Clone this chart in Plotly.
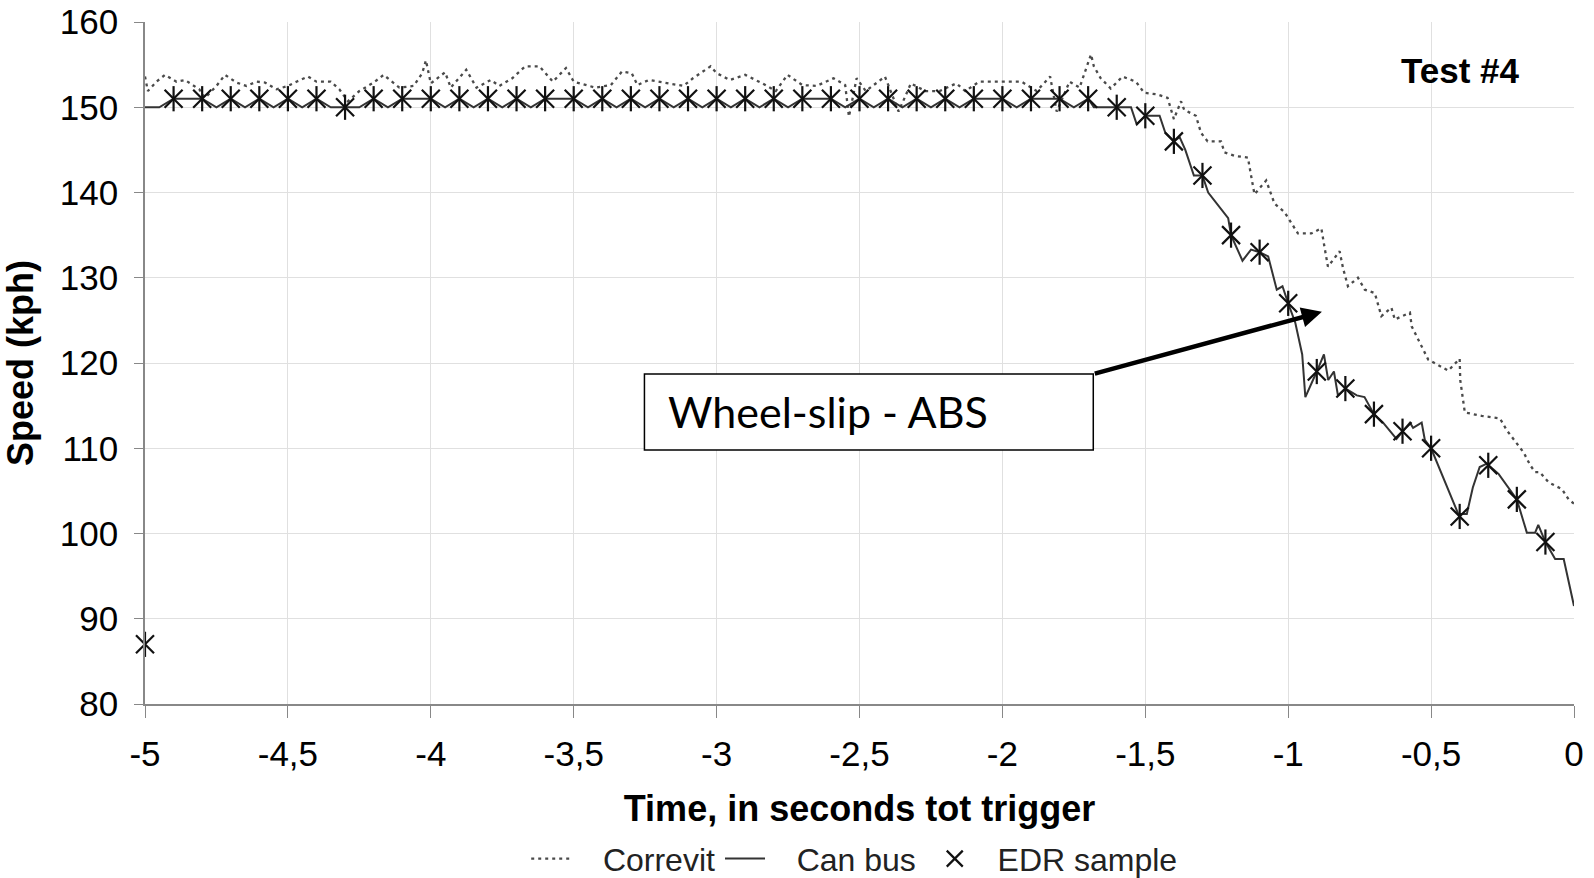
import plotly.graph_objects as go

# ---------------- data ----------------
correvit_t = [-5.00, -4.99, -4.96, -4.93, -4.89, -4.86, -4.81, -4.79, -4.75, -4.72, -4.68, -4.645, -4.61, -4.58,
              -4.54, -4.50, -4.47, -4.43, -4.40, -4.35, -4.32, -4.29, -4.25, -4.20, -4.165, -4.11, -4.06, -4.03,
              -4.017, -4.00, -3.95, -3.93, -3.876, -3.84, -3.79, -3.76, -3.715, -3.67, -3.62, -3.573, -3.527,
              -3.50, -3.478, -3.424, -3.37, -3.331, -3.297, -3.277, -3.237, -3.17, -3.116, -3.083, -3.021, -3.00,
              -2.954, -2.90, -2.84, -2.793, -2.752, -2.70, -2.65, -2.591, -2.55, -2.537, -2.51, -2.478, -2.411,
              -2.363, -2.32, -2.27, -2.22, -2.161, -2.13, -2.081, -2.04, -2.00, -1.933, -1.88, -1.833, -1.81,
              -1.765, -1.73, -1.69, -1.68, -1.656, -1.621, -1.58, -1.533, -1.504, -1.457, -1.422, -1.40, -1.375,
              -1.364, -1.323, -1.305, -1.282, -1.235, -1.223, -1.188, -1.141, -1.13, -1.118, -1.077, -1.048,
              -1.013, -0.995, -0.966, -0.919, -0.884, -0.873, -0.861, -0.82, -0.808, -0.791, -0.756, -0.732,
              -0.697, -0.674, -0.639, -0.627, -0.574, -0.568, -0.533, -0.51, -0.44, -0.40, -0.398, -0.382,
              -0.323, -0.259, -0.235, -0.176, -0.153, -0.136, -0.12, -0.089, -0.042, -0.019, 0.0]
correvit_v = [153.6, 151.9, 153.0, 153.8, 153.0, 153.2, 152.1, 151.1, 152.5, 153.8, 152.9, 152.5, 153.0, 152.9,
              152.1, 152.5, 153.0, 153.6, 153.0, 153.0, 152.1, 150.7, 151.9, 152.9, 153.8, 152.3, 152.5, 154.0,
              155.5, 152.8, 154.1, 152.3, 154.4, 152.3, 153.2, 152.5, 153.4, 154.8, 154.8, 153.0, 154.6,
              153.0, 152.8, 152.3, 152.6, 154.2, 154.0, 152.6, 153.2, 152.8, 152.5, 153.4, 154.8, 154.0,
              153.2, 153.8, 152.8, 151.9, 153.8, 152.6, 152.5, 153.4, 152.6, 148.9, 153.4, 151.9, 153.6,
              149.5, 152.8, 151.9, 151.9, 152.8, 151.9, 153.0, 153.0, 153.0, 153.0, 151.9, 153.6, 149.5,
              153.0, 152.3, 156.2, 154.8, 153.4, 152.2, 153.6, 153.0, 151.7, 151.5, 151.1, 148.6, 150.7,
              149.7, 149.0, 147.0, 146.0, 146.0, 144.7, 144.3, 144.1, 142.0, 139.8, 141.4, 138.7,
              137.7, 136.7, 135.2, 135.2, 135.8, 133.6, 131.3, 133.1, 131.1, 129.0, 130.0, 128.6,
              128.2, 125.5, 126.5, 125.1, 125.9, 124.3, 122.0, 120.4, 119.1, 120.5, 118.0, 114.2,
              113.8, 113.5, 112.1, 109.5, 108.0, 107.2, 107.2, 106.0, 105.2, 104.0, 103.5]

canbus_t = [-5.00, -4.95, -4.90, -4.85, -4.80, -4.75, -4.70, -4.65, -4.60, -4.55, -4.50, -4.45, -4.40, -4.35,
            -4.30, -4.25, -4.20, -4.15, -4.10, -4.05, -4.00, -3.95, -3.90, -3.85, -3.80, -3.75, -3.70, -3.65,
            -3.60, -3.55, -3.50, -3.45, -3.40, -3.35, -3.30, -3.25, -3.20, -3.15, -3.10, -3.05, -3.00, -2.95,
            -2.90, -2.85, -2.80, -2.75, -2.70, -2.65, -2.60, -2.55, -2.50, -2.45, -2.40, -2.35, -2.30, -2.25,
            -2.20, -2.15, -2.10, -2.05, -2.00, -1.95, -1.90, -1.85, -1.80, -1.75, -1.70,
            -1.68, -1.60, -1.55, -1.53, -1.50, -1.45, -1.43, -1.40, -1.38, -1.36, -1.33, -1.30, -1.28, -1.21,
            -1.20, -1.16, -1.13, -1.10, -1.07, -1.04, -1.02, -1.00, -0.975, -0.951, -0.94, -0.90, -0.875,
            -0.86, -0.84, -0.826, -0.80, -0.76, -0.733, -0.70, -0.668, -0.621, -0.60, -0.574, -0.563, -0.533,
            -0.522, -0.50, -0.405, -0.375, -0.354, -0.33, -0.305, -0.264, -0.20, -0.165, -0.136, -0.125,
            -0.10, -0.066, -0.036, 0.0]
canbus_v = [150, 150, 151, 151, 151, 150, 151, 150, 151, 150, 151, 150, 151, 150,
            150, 150, 151, 150, 151, 151, 151, 150, 151, 150, 151, 150, 151, 150,
            151, 151, 151, 150, 151, 150, 151, 150, 151, 150, 151, 150, 151, 150,
            151, 150, 151, 150, 151, 151, 151, 150, 151, 150, 151, 150, 151, 150,
            151, 150, 151, 151, 151, 150, 151, 151, 151, 150, 151,
            150, 150, 150, 148, 149, 149, 147, 146, 146.5, 145, 142, 142, 140, 137,
            135, 132, 133.3, 133, 132.5, 128.6, 129, 127, 124.7, 121, 116, 119, 121,
            118, 119, 116.2, 117, 116.2, 116, 114, 113, 111.1, 112, 113, 112.4, 113,
            111, 110, 102.3, 102.3, 105.4, 107.8, 108.2, 107, 104, 100.1, 100.1, 101,
            99, 97, 97, 91.5]

edr_t = [-5.0, -4.9, -4.8, -4.7, -4.6, -4.5, -4.4, -4.3, -4.2, -4.1, -4.0, -3.9, -3.8, -3.7, -3.6, -3.5,
         -3.4, -3.3, -3.2, -3.1, -3.0, -2.9, -2.8, -2.7, -2.6, -2.5, -2.4, -2.3, -2.2, -2.1, -2.0, -1.9,
         -1.8, -1.7, -1.6, -1.5, -1.4, -1.3, -1.2, -1.1, -1.0, -0.9, -0.8, -0.7, -0.6, -0.5, -0.4, -0.3,
         -0.2, -0.1]
edr_v = [87, 151, 151, 151, 151, 151, 151, 150, 151, 151, 151, 151, 151, 151, 151, 151,
         151, 151, 151, 151, 151, 151, 151, 151, 151, 151, 151, 151, 151, 151, 151, 151,
         151, 151, 150, 149, 146, 142, 135, 133, 127, 119, 117, 114, 112, 110, 102, 108,
         104, 99]

x_tickvals = [-5, -4.5, -4, -3.5, -3, -2.5, -2, -1.5, -1, -0.5, 0]
x_ticktext = ["-5", "-4,5", "-4", "-3,5", "-3", "-2,5", "-2", "-1,5", "-1", "-0,5", "0"]
y_tickvals = [80, 90, 100, 110, 120, 130, 140, 150, 160]

# ---------------- figure ----------------
AX_FONT = "Arial, Liberation Sans, sans-serif"
NB = "\u00a0"

fig = go.Figure()
fig.add_trace(go.Scatter(x=correvit_t, y=correvit_v, mode="lines", name=NB * 3 + "Correvit",
                         line=dict(color="#4a4a4a", width=2.3, dash="3px,4px")))
fig.add_trace(go.Scatter(x=canbus_t, y=canbus_v, mode="lines", name=NB * 3 + "Can bus" + NB,
                         line=dict(color="#333333", width=2)))
fig.add_trace(go.Scatter(x=edr_t, y=edr_v, mode="markers", name=NB * 2 + "EDR sample", cliponaxis=False,
                         marker=dict(symbol="x-thin-open", size=18, color="#111111",
                                     line=dict(color="#111111", width=2.2))))
fig.add_trace(go.Scatter(x=edr_t, y=edr_v, mode="markers", showlegend=False, cliponaxis=False,
                         hoverinfo="skip",
                         marker=dict(symbol="line-ns-open", size=18, color="#111111",
                                     line=dict(color="#111111", width=2.2))))

# annotation box
fig.add_shape(type="rect", x0=-3.2525, x1=-1.682, y0=109.8, y1=118.7, xref="x", yref="y",
              line=dict(color="black", width=1.5), fillcolor="white", layer="above")
fig.add_annotation(x=-3.177, y=114.3, xref="x", yref="y", text="Wheel-slip - ABS", showarrow=False,
                   xanchor="left", yanchor="middle", font=dict(family="Lato, Open Sans, sans-serif",
                                                                 size=43, color="black"))
fig.add_annotation(x=-0.882, y=126.0, ax=-1.682, ay=118.7, xref="x", yref="y", axref="x", ayref="y",
                   text="", showarrow=True, arrowhead=2, arrowsize=0.9, arrowwidth=4.5, arrowcolor="black")
fig.add_annotation(x=-0.397, y=154.3, xref="x", yref="y", text="<b>Test #4</b>", showarrow=False,
                   font=dict(family=AX_FONT, size=35, color="black"))

fig.update_layout(
    width=1594, height=878,
    margin=dict(l=145, r=20, t=22, b=174, autoexpand=False),
    paper_bgcolor="white", plot_bgcolor="white",
    font=dict(family=AX_FONT, color="black"),
    legend=dict(orientation="h", x=0.4963, xanchor="center", y=-0.227, yanchor="middle",
                font=dict(size=32, color="#222222"), itemwidth=40, bgcolor="rgba(0,0,0,0)"),
    showlegend=True,
)
fig.update_xaxes(range=[-5, 0], tickvals=x_tickvals, ticktext=x_ticktext, automargin=False,
                 showgrid=True, gridcolor="#e0e0e0", gridwidth=1,
                 showline=True, linecolor="#888888", linewidth=1.5,
                 ticks="outside", ticklen=12, tickcolor="#888888",
                 tickfont=dict(size=35, color="black"), ticklabelstandoff=6,
                 title=dict(text="<b>Time, in seconds tot trigger</b>", font=dict(size=36, color="black"),
                            standoff=24),
                 zeroline=False)
fig.update_yaxes(range=[80, 160], tickvals=y_tickvals, automargin=False,
                 showgrid=True, gridcolor="#e0e0e0", gridwidth=1,
                 showline=True, linecolor="#888888", linewidth=1.5,
                 ticks="outside", ticklen=9, tickcolor="#888888",
                 tickfont=dict(size=35, color="black"), ticklabelstandoff=9,
                 title=dict(text="<b>Speed (kph)</b>", font=dict(size=36, color="black"), standoff=21),
                 zeroline=False)

fig.write_html("out.html")
